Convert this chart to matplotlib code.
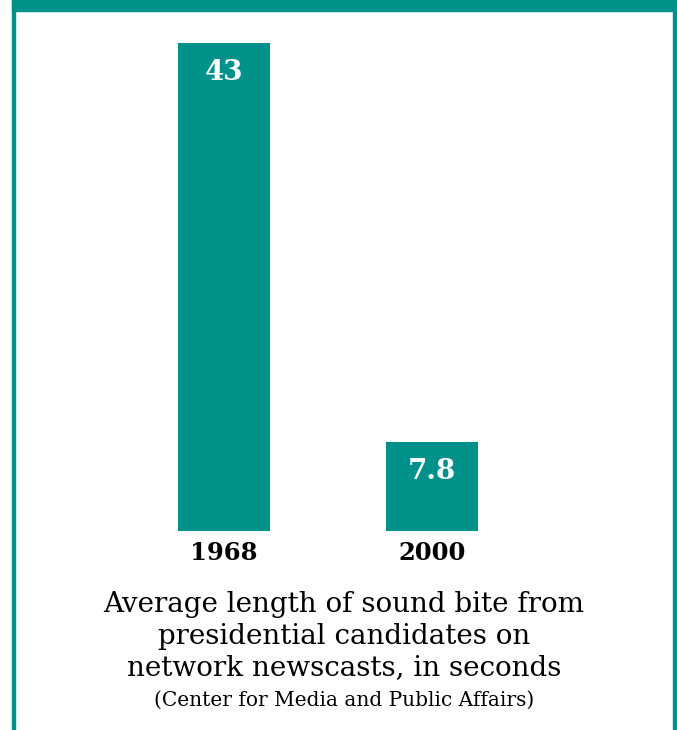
import matplotlib.pyplot as plt
from matplotlib.patches import Rectangle

years = ['1968', '2000']
seconds = [43, 7.8]
value_labels = ['43', '7.8']

TEAL = '#00918A'
W, H = 677, 730

fig = plt.figure(figsize=(W / 100, H / 100), dpi=100)
fig.patch.set_facecolor('white')

# frame: thick top band, thin sides
fig.patches.append(Rectangle((12 / W, 1 - 11 / H), (677 - 12) / W, 11 / H,
                             transform=fig.transFigure, color=TEAL, zorder=0))
fig.patches.append(Rectangle((12 / W, 0), 3 / W, 1, transform=fig.transFigure,
                             color=TEAL, zorder=0))
fig.patches.append(Rectangle((673 / W, 0), 3 / W, 1, transform=fig.transFigure,
                             color=TEAL, zorder=0))

ax = fig.add_axes([178 / W, 1 - 531 / H, 300 / W, 488 / H])
x = range(len(years))
bars = ax.bar(x, seconds, width=0.442, color=TEAL)
ax.set_xlim(-0.221, 1.221)
ax.set_ylim(0, 43)
ax.axis('off')

for b, lab in zip(bars, value_labels):
    ax.annotate(lab, (b.get_x() + b.get_width() / 2, b.get_height()),
                xytext=(0, -21), textcoords='offset points', ha='center',
                va='center', color='white', fontsize=20, fontweight='bold',
                family='DejaVu Serif')
for i, yr in enumerate(years):
    ax.annotate(yr, (i, 0), xytext=(0, -16), textcoords='offset points',
                ha='center', va='center', color='black', fontsize=17.5,
                fontweight='bold', family='DejaVu Serif')

fig.text(344 / W, 1 - 636 / H,
         'Average length of sound bite from\npresidential candidates on\nnetwork newscasts, in seconds',
         ha='center', va='center', fontsize=20, family='DejaVu Serif',
         linespacing=1.2)
fig.text(344 / W, 1 - 700 / H, '(Center for Media and Public Affairs)',
         ha='center', va='center', fontsize=14.5, family='DejaVu Serif')

fig.savefig('out.png', dpi=100, facecolor='white')
